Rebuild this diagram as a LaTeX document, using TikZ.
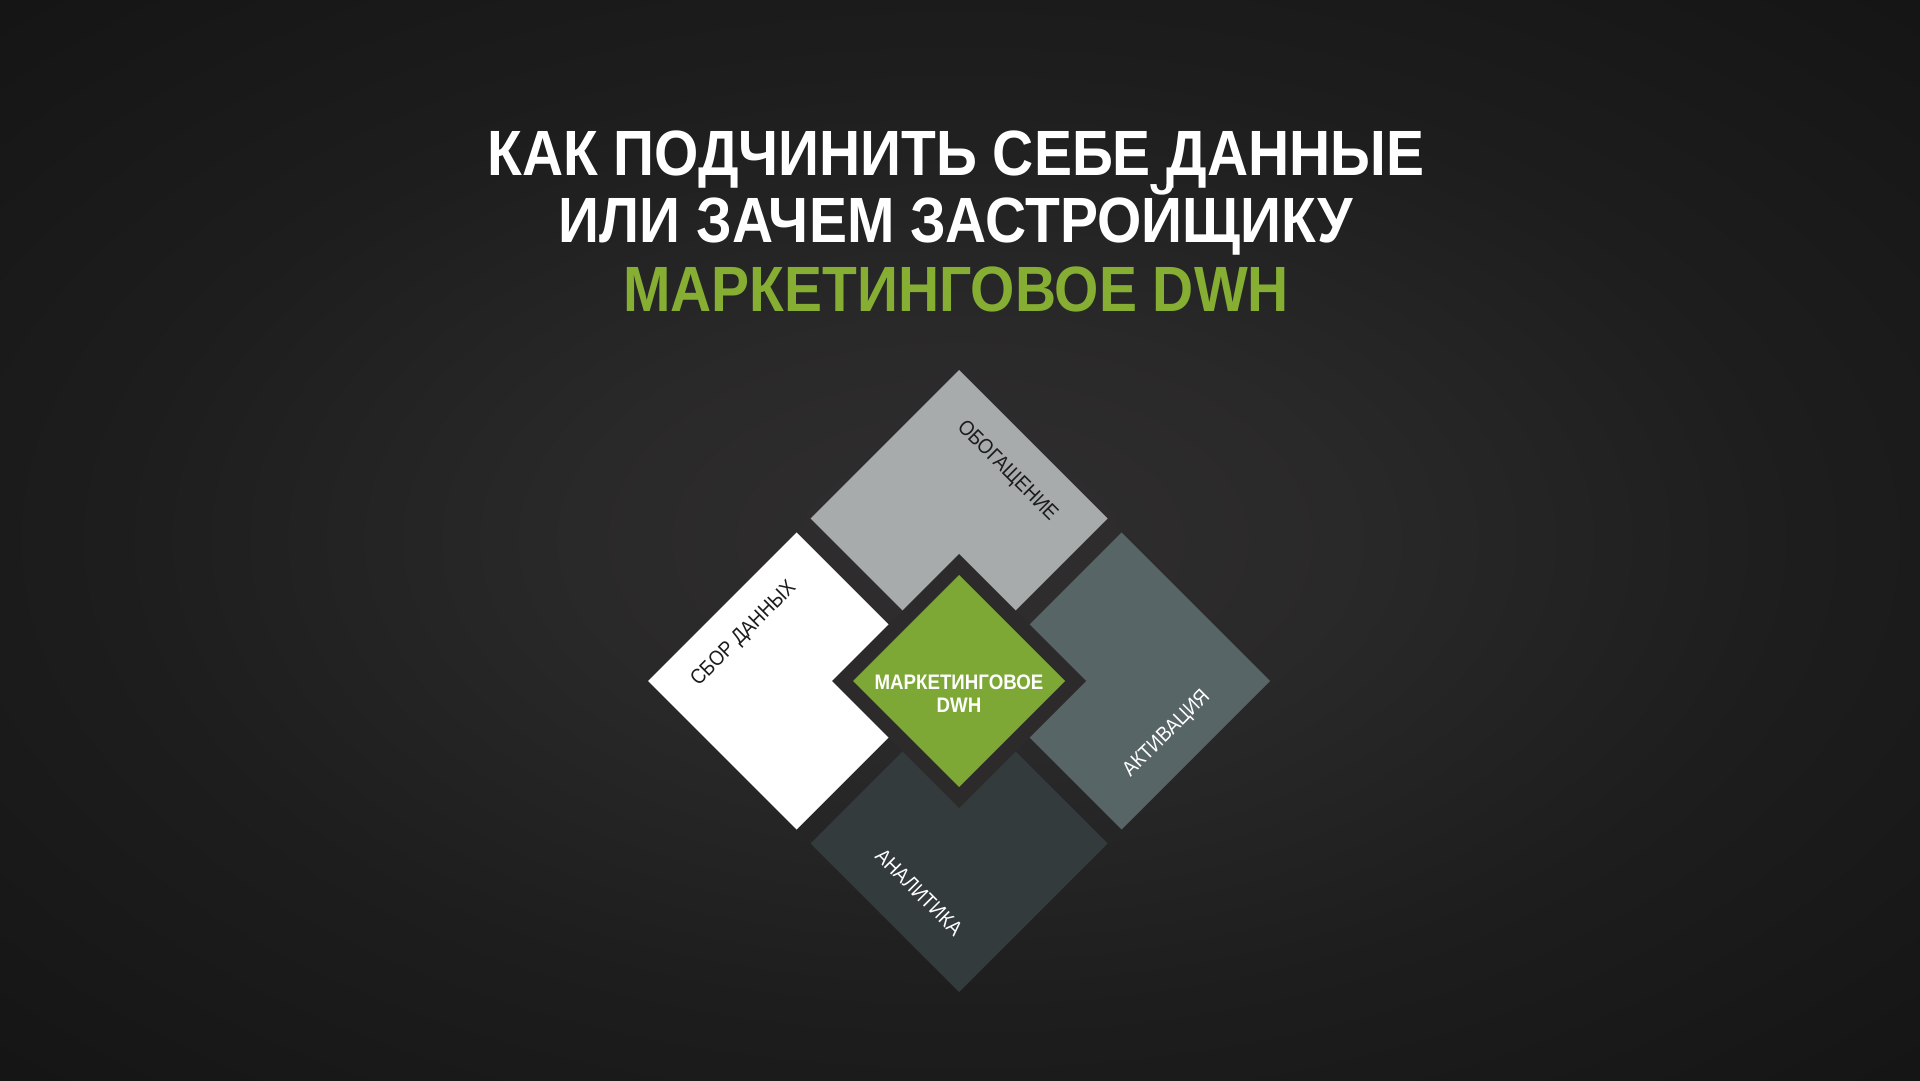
\documentclass[tikz,border=0pt]{standalone}
\usepackage{fontspec}
\setmainfont{Liberation Sans}[FakeStretch=0.89]
\usetikzlibrary{shapes,backgrounds,positioning}

\definecolor{bginner}{HTML}{302E2F}
\definecolor{bgmid}{HTML}{2A292A}
\definecolor{bgfar}{HTML}{1E1D1E}
\definecolor{bgouter}{HTML}{151515}
\definecolor{bgedge}{HTML}{0E0E0E}
\definecolor{ringgray}{HTML}{2C2A2B}
\definecolor{enrichgray}{HTML}{A7ABAB}
\definecolor{activategray}{HTML}{586566}
\definecolor{analysegray}{HTML}{343B3D}
\definecolor{dwhgreen}{HTML}{7EA836}
\definecolor{titlegreen}{HTML}{86AE32}
\definecolor{inkdark}{HTML}{1C1C1C}

\pgfdeclareradialshading{slide}{\pgfpoint{0bp}{0bp}}{%
  color(0bp)=(bginner); color(10bp)=(bgmid); color(22bp)=(bgfar);
  color(35bp)=(bgouter); color(50bp)=(bgedge)}

\begin{document}
\begin{tikzpicture}[x=1pt,y=1pt,node distance=14pt,
    piece/.style={diamond,minimum width=297pt,minimum height=297pt,inner sep=0pt,outer sep=0pt},
    tag/.style={inner sep=0pt,font=\fontsize{21}{24}\selectfont},
    headline/.style={anchor=base,inner sep=0pt,font=\fontsize{64}{68}\selectfont\bfseries}]
  % slide background
  \useasboundingbox (0,0) rectangle (1920,1080);
  \shade[shading=slide] (0,0) rectangle (1920,1080);

  % Title
  \node[headline,text=white]      (title 1) at (956,904) {КАК ПОДЧИНИТЬ СЕБЕ ДАННЫЕ};
  \node[headline,text=white]      (title 2) at (956,837) {ИЛИ ЗАЧЕМ ЗАСТРОЙЩИКУ};
  \node[headline,text=titlegreen] (title 3) at (956,768) {МАРКЕТИНГОВОЕ DWH};

  % Four pieces round the centre
  \coordinate (mid) at (959,399);
  \node[piece,fill=enrichgray]   (box enrich)   [above=of mid] {};
  \node[piece,fill=white]        (box collect)  [left=of mid]  {};
  \node[piece,fill=activategray] (box activate) [right=of mid] {};
  \node[piece,fill=analysegray]  (box analyse)  [below=of mid] {};

  % Centre: dark notch and green core
  \node[piece,fill=ringgray,minimum width=254pt,minimum height=254pt] (ring) at (mid) {};
  \node[piece,fill=dwhgreen,minimum width=212pt,minimum height=212pt] (dwh)  at (mid) {};
  \node[align=center,text=white,inner sep=0pt,font=\fontsize{21}{23}\selectfont\bfseries]
    (dwh text) at ([yshift=-12.5pt]dwh.center) {МАРКЕТИНГОВОЕ\\DWH};

  % Labels
  \coordinate (spot enrich)   at ([shift={(48,47.5)}]box enrich.center);
  \coordinate (spot collect)  at ([shift={(-52.5,47)}]box collect.center);
  \coordinate (spot activate) at ([shift={(45.5,-53)}]box activate.center);
  \coordinate (spot analyse)  at ([shift={(-40,-48.5)}]box analyse.center);
  \node[tag,text=inkdark,rotate=-45] (tag enrich)   at (spot enrich)   {ОБОГАЩЕНИЕ};
  \node[tag,text=inkdark,rotate=45]  (tag collect)  at (spot collect)  {СБОР ДАННЫХ};
  \node[tag,text=white,rotate=45]    (tag activate) at (spot activate) {АКТИВАЦИЯ};
  \node[tag,text=white,rotate=-45]   (tag analyse)  at (spot analyse)  {АНАЛИТИКА};
\end{tikzpicture}
\end{document}
